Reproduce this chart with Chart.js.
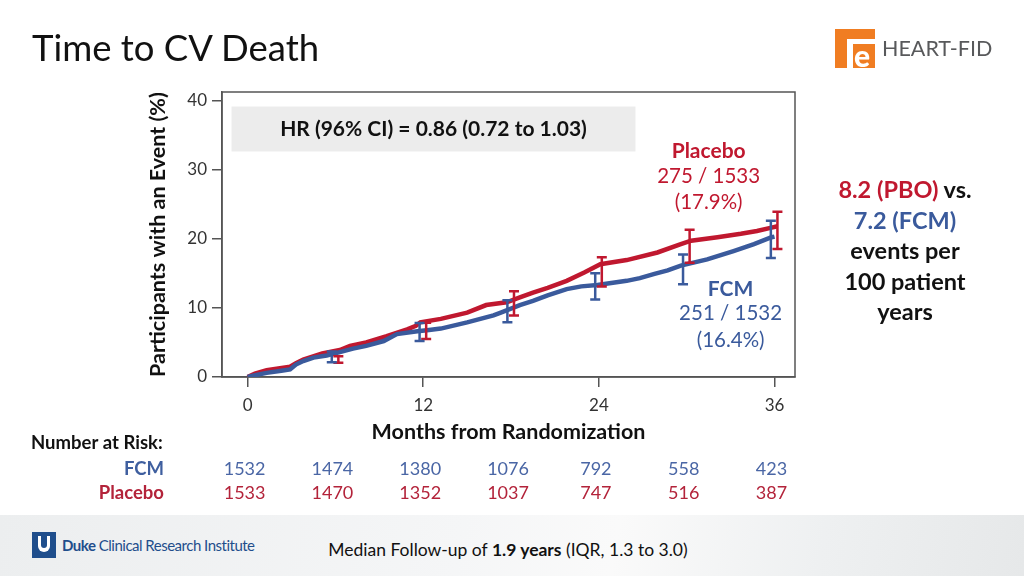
<!DOCTYPE html>
<html>
<head>
<meta charset="utf-8">
<script src="https://cdn.jsdelivr.net/npm/chart.js@4.4.1/dist/chart.umd.min.js"></script>
<style>
  html, body { margin: 0; padding: 0; width: 1024px; height: 576px; overflow: hidden; background: #fff; font-family: Lato, "Open Sans", sans-serif; }
  #stage { position: relative; width: 1024px; height: 576px; }
  #km { position: absolute; left: 0; top: 0; }
  .title { position: absolute; left: 32px; top: 25px; font-size: 36.5px; color: #111; }
  .logo { position: absolute; left: 835px; top: 28px; height: 40px; display: flex; align-items: center; }
  .logo .fe { width: 40px; height: 39px; background: #f07d22; position: relative; }
  .logo .fe .bar1 { position: absolute; left: 12px; top: 10px; width: 28px; height: 5px; background: #fff; }
  .logo .fe .bar2 { position: absolute; left: 12px; top: 10px; width: 6px; height: 29px; background: #fff; }
  .logo .fe .e { position: absolute; left: 19px; top: 14px; font-size: 30px; font-weight: 900; color: #fff; line-height: 24px; }
  .logo .name { margin-left: 7px; font-size: 21.5px; color: #58595b; letter-spacing: 0px; }
  .rate { position: absolute; left: 810px; top: 174px; width: 190px; text-align: center; font-size: 23.5px; font-weight: bold; line-height: 30.5px; color: #111; }
  .red { color: #c0182f; }
  .blue { color: #3a5a9c; }
  .band { position: absolute; left: 0; top: 515px; width: 1024px; height: 61px;
          background: linear-gradient(100deg, #eceeef 0%, #f5f6f7 45%, #fafafa 60%, #eef0f1 80%, #e6e8e9 100%); }
  .duke { position: absolute; left: 32px; top: 532px; display: flex; align-items: center; }
  .duke .sq { width: 24px; height: 26px; background: #1f4e8c; position: relative; }
  .duke .sq .sh { position: absolute; left: 6px; top: 4px; width: 12px; height: 16px; background: #fff; border-radius: 0 0 6px 6px; }
  .duke .sq .sh2 { position: absolute; left: 9px; top: 4px; width: 6px; height: 12px; background: #1f4e8c; border-radius: 0 0 3px 3px; }
  .duke .txt { margin-left: 6px; font-size: 15px; color: #1f4e8c; letter-spacing: -0.5px; }
  .median { position: absolute; left: 0; width: 1016px; top: 539px; text-align: center; font-size: 17.5px; color: #111; }
</style>
</head>
<body>
<div id="stage">
  <canvas id="km" width="1024" height="576"></canvas>
  <div class="title">Time to CV Death</div>
  <div class="logo"><div class="fe"><div class="bar1"></div><div class="bar2"></div><div class="e">e</div></div><div class="name">HEART-FID</div></div>
  <div class="rate">
    <span class="red">8.2 (PBO)</span> vs.<br>
    <span class="blue">7.2 (FCM)</span><br>
    events per<br>
    100 patient<br>
    years
  </div>
  <div class="band"></div>
  <div class="duke"><div class="sq"><div class="sh"></div><div class="sh2"></div></div><div class="txt"><b>Duke</b> Clinical Research Institute</div></div>
  <div class="median">Median Follow-up of <b>1.9 years</b> (IQR, 1.3 to 3.0)</div>
</div>
<script>
// cumulative incidence (months, %)
const fcmMonths = [0, 0.6, 1.3, 2.3, 2.9, 3.3, 3.8, 4.5, 5.4, 6.3, 7.2, 8.1, 9.3, 10.2, 11.6, 12.4, 13.2, 15.0, 16.8, 17.3, 18.6, 19.5, 20.5, 21.8, 22.8, 23.9, 25.9, 26.8, 27.8, 28.7, 29.6, 31.4, 33.2, 34.6, 35.8, 36.0];
const fcmPct    = [0, 0.3, 0.6, 0.9, 1.1, 1.8, 2.3, 2.8, 3.1, 3.6, 4.1, 4.5, 5.2, 6.2, 6.6, 6.8, 7.0, 7.9, 8.9, 9.3, 10.4, 11.0, 11.8, 12.7, 13.1, 13.3, 13.9, 14.3, 14.9, 15.4, 16.1, 17.0, 18.2, 19.2, 20.2, 20.3];
const pboMonths = [0, 0.5, 1.3, 2.9, 3.3, 3.8, 5.1, 6.3, 7.0, 8.1, 9.5, 10.9, 11.5, 11.8, 13.2, 15.0, 16.3, 17.7, 18.6, 19.5, 20.5, 21.8, 23.0, 24.1, 25.9, 28.0, 29.6, 30.3, 32.1, 33.7, 34.8, 35.8, 36.2];
const pboPct    = [0, 0.5, 1.0, 1.5, 2.0, 2.5, 3.4, 3.9, 4.5, 5.0, 5.9, 6.9, 7.4, 7.9, 8.4, 9.3, 10.4, 10.8, 11.5, 12.2, 12.9, 13.9, 15.1, 16.3, 16.9, 18.0, 19.2, 19.7, 20.2, 20.7, 21.1, 21.6, 21.8];

// confidence intervals at 6-month landmarks
const ciMonths = [6, 12, 18, 24, 30, 36];
const fcmLow  = [2.15, 5.2, 7.9, 11.2, 13.4, 17.2];
const fcmHigh = [3.7, 7.8, 11.1, 15.0, 17.7, 22.6];
const pboLow  = [2.05, 5.5, 8.9, 13.1, 16.5, 18.5];
const pboHigh = [3.0, 7.85, 12.4, 17.3, 21.3, 23.9];

// number at risk
const riskMonths = [0, 6, 12, 18, 24, 30, 36];
const fcmAtRisk = [1532, 1474, 1380, 1076, 792, 558, 423];
const pboAtRisk = [1533, 1470, 1352, 1037, 747, 516, 387];

const xTicks = [0, 12, 24, 36];
const yTicks = [0, 10, 20, 30, 40];

const RED = '#c0182f';
const BLUE = '#3a5a9c';
const FONT = 'Lato, "Open Sans", sans-serif';

const toPoints = (xs, ys) => xs.map((m, i) => ({ x: m, y: ys[i] }));

// gray HR box + frame behind the curves
const backdrop = {
  id: 'backdrop',
  beforeDatasetsDraw(chart) {
    const { ctx, chartArea: a, scales: { x, y } } = chart;
    ctx.save();
    const l = x.getPixelForValue(-1.1), r = x.getPixelForValue(26.5);
    const t = y.getPixelForValue(39.1), b = y.getPixelForValue(32.6);
    ctx.fillStyle = '#ececec';
    ctx.fillRect(l, t, r - l, b - t);
    ctx.fillStyle = '#111';
    ctx.font = 'bold 21px ' + FONT;
    ctx.textAlign = 'center';
    ctx.textBaseline = 'middle';
    ctx.fillText('HR (96% CI) = 0.86 (0.72 to 1.03)', (l + r) / 2, (t + b) / 2);
    ctx.strokeStyle = '#555';
    ctx.lineWidth = 1.5;
    ctx.strokeRect(a.left, a.top, a.right - a.left, a.bottom - a.top);
    ctx.restore();
  }
};

const ciBars = {
  id: 'ciBars',
  afterDatasetsDraw(chart) {
    const { ctx, scales: { x, y } } = chart;
    const draw = (lo, hi, shift, color) => {
      ctx.save();
      ctx.strokeStyle = color;
      ctx.lineWidth = 2.5;
      ciMonths.forEach((m, i) => {
        const px = x.getPixelForValue(m + shift);
        const top = y.getPixelForValue(hi[i]);
        const bot = y.getPixelForValue(lo[i]);
        ctx.beginPath();
        ctx.moveTo(px, top); ctx.lineTo(px, bot);
        ctx.moveTo(px - 5, top); ctx.lineTo(px + 5, top);
        ctx.moveTo(px - 5, bot); ctx.lineTo(px + 5, bot);
        ctx.stroke();
      });
      ctx.restore();
    };
    draw(pboLow, pboHigh, 0.2, RED);
    draw(fcmLow, fcmHigh, -0.25, BLUE);
  }
};

// curve labels and the number-at-risk table
const labels = {
  id: 'labels',
  afterDraw(chart) {
    const { ctx, scales: { x, y } } = chart;
    ctx.save();
    ctx.textAlign = 'center';
    ctx.textBaseline = 'middle';

    let cx = x.getPixelForValue(31.5), cy = y.getPixelForValue(32.6);
    ctx.fillStyle = RED;
    ctx.font = 'bold 21px ' + FONT;
    ctx.fillText('Placebo', cx, cy);
    ctx.font = '20.5px ' + FONT;
    ctx.fillText('275 / 1533', cx, cy + 25);
    ctx.fillText('(17.9%)', cx, cy + 51);

    cx = x.getPixelForValue(33.0); cy = y.getPixelForValue(12.75);
    ctx.fillStyle = BLUE;
    ctx.font = 'bold 21px ' + FONT;
    ctx.fillText('FCM', cx, cy);
    ctx.font = '20.5px ' + FONT;
    ctx.fillText('251 / 1532', cx, cy + 25);
    ctx.fillText('(16.4%)', cx, cy + 52);

    ctx.textAlign = 'left';
    ctx.fillStyle = '#111';
    ctx.font = 'bold 18.5px ' + FONT;
    ctx.fillText('Number at Risk:', 31, 443);

    ctx.textAlign = 'right';
    ctx.font = 'bold 18.5px ' + FONT;
    ctx.fillStyle = '#3f5f9f';
    ctx.fillText('FCM', 164, 469);
    ctx.fillStyle = '#b3233a';
    ctx.fillText('Placebo', 164, 493);

    ctx.textAlign = 'center';
    ctx.font = '18px ' + FONT;
    riskMonths.forEach((m, i) => {
      const px = x.getPixelForValue(m);
      ctx.fillStyle = '#4a66a5';
      ctx.fillText(String(fcmAtRisk[i]), px - 3, 469);
      ctx.fillStyle = '#b3233a';
      ctx.fillText(String(pboAtRisk[i]), px - 3, 493);
    });
    ctx.restore();
  }
};

const ctx = document.getElementById('km').getContext('2d');
new Chart(ctx, {
  type: 'line',
  data: {
    datasets: [
      { label: 'FCM', data: toPoints(fcmMonths, fcmPct), borderColor: BLUE, borderWidth: 4.5, pointRadius: 0, tension: 0, fill: false },
      { label: 'Placebo', data: toPoints(pboMonths, pboPct), borderColor: RED, borderWidth: 4.5, pointRadius: 0, tension: 0, fill: false }
    ]
  },
  options: {
    responsive: false,
    animation: false,
    layout: { padding: { left: 141, top: 92, right: 229, bottom: 127 } },
    plugins: { legend: { display: false }, tooltip: { enabled: false } },
    scales: {
      x: {
        type: 'linear',
        min: -1.75,
        max: 37.4,
        afterBuildTicks: s => { s.ticks = xTicks.map(v => ({ value: v })); },
        afterFit: s => { s.height = 72; },
        grid: { drawOnChartArea: false, drawTicks: true, tickLength: 10, color: '#555', lineWidth: 1.5 },
        border: { display: true, color: '#555', width: 1.5 },
        ticks: { color: '#333', font: { family: FONT, size: 17 }, padding: 8, maxRotation: 0 },
        title: { display: true, text: 'Months from Randomization', color: '#111', font: { family: FONT, size: 21.5, weight: 'bold' }, padding: { top: 4, bottom: 4 } }
      },
      y: {
        min: 0,
        max: 41.2,
        afterBuildTicks: s => { s.ticks = yTicks.map(v => ({ value: v })); },
        afterFit: s => { s.width = 81; },
        grid: { drawOnChartArea: false, drawTicks: true, tickLength: 10, color: '#555', lineWidth: 1.5 },
        border: { display: true, color: '#555', width: 1.5 },
        ticks: { color: '#333', font: { family: FONT, size: 17 }, padding: 5 },
        title: { display: true, text: 'Participants with an Event (%)', color: '#111', font: { family: FONT, size: 21.5, weight: 'bold' }, padding: { top: 4, bottom: 4 } }
      }
    }
  },
  plugins: [backdrop, ciBars, labels]
});
</script>
</body>
</html>
